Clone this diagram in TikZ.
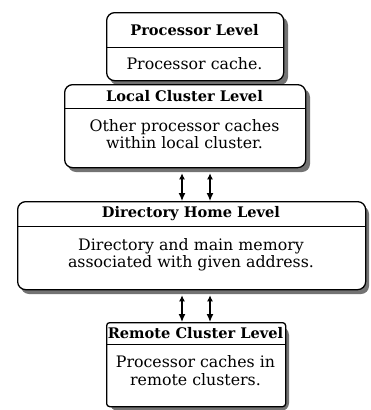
\documentclass[tikz,border=0pt]{standalone}
\usepackage{fontspec}
\setmainfont{DejaVu Serif}
\usetikzlibrary{arrows.meta}
\begin{document}
\begin{tikzpicture}[x=1pt,y=-1pt,
 box/.style={draw, fill=white, line width=1.3pt, rounded corners=8pt, anchor=north west, inner sep=0pt},
 shadowbox/.style={fill=black!55, rounded corners=8pt},
 ttl/.style={font=\bfseries\fontsize{14.6}{16}\selectfont},
 txt/.style={font=\fontsize{15.8}{17.5}\selectfont, align=center},
 ar/.style={line width=1.3pt, {Latex[length=6pt,width=6pt]}-{Latex[length=8pt,width=7pt]}},
 divider/.style={line width=0.9pt}]
\useasboundingbox (0,0) rectangle (371,410);
% shadows
\fill[shadowbox] (110,17) rectangle (288,85);
\fill[shadowbox] (68,89) rectangle (310,172);
\fill[shadowbox] (21,206) rectangle (369,294);
\fill[shadowbox] (110,327) rectangle (289,411);
% boxes
\node[box, minimum width=177pt, minimum height=68pt] (b1) at (106,12) {};
\node[box, minimum width=241pt, minimum height=83pt] (b2) at (64,84) {};
\node[box, minimum width=348pt, minimum height=88pt] (b3) at (17,201) {};
\node[box, minimum width=179pt, minimum height=84pt, rounded corners=3pt] (b4) at (106,322) {};
% dividers
\draw[divider] (b1.north west) ++(0,35) -- ++(177,0);
\draw[divider] (b2.north west) ++(0,24) -- ++(241,0);
\draw[divider] (b3.north west) ++(0,25) -- ++(348,0);
\draw[divider] (b4.north west) ++(0,22) -- ++(179,0);
% texts
\node[ttl] (t1) at (194.5,30) {Processor Level};
\node[txt] (d1) at (194.5,64) {Processor cache.};
\node[ttl] (t2) at (184.5,96) {Local Cluster Level};
\node[txt] (d2) at (184.5,134) {Other processor caches\\within local cluster.};
\node[ttl] (t3) at (191,214) {Directory Home Level};
\node[txt] (d3) at (191,254.5) {Directory and main memory\\associated with given address.};
\node[ttl] (t4) at (195.5,333) {Remote Cluster Level};
\node[txt] (d4) at (195.5,370.5) {Processor caches in\\remote clusters.};
% arrows
\coordinate (xa) at (182,0);
\coordinate (xb) at (210,0);
\draw[ar] (b2.south -| xa) ++(0,5) -- (b3.north -| xa);
\draw[ar] (b2.south -| xb) ++(0,5) -- (b3.north -| xb);
\draw[ar] (b3.south -| xa) ++(0,5) -- (b4.north -| xa);
\draw[ar] (b3.south -| xb) ++(0,5) -- (b4.north -| xb);
\end{tikzpicture}
\end{document}
